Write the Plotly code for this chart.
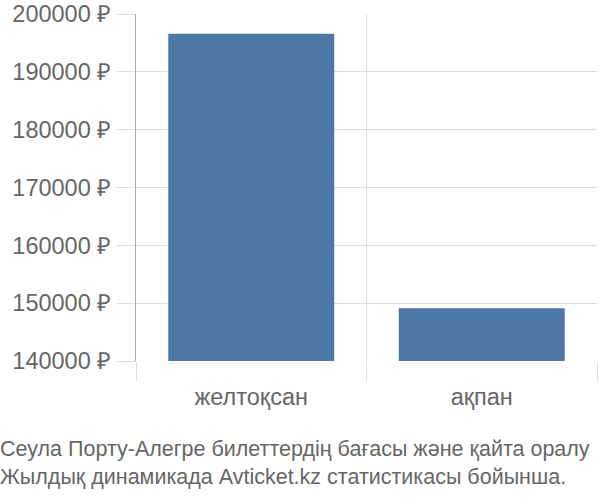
import plotly.graph_objects as go

categories = ["желтоқсан", "ақпан"]
prices = [196600, 149100]
y_ticks = [140000, 150000, 160000, 170000, 180000, 190000, 200000]
y_tick_labels = [f"{v} ₽" for v in y_ticks]
title_lines = ["Сеула Порту-Алегре билеттердің бағасы және қайта оралу",
               "Жылдық динамикада Avticket.kz статистикасы бойынша."]

fig = go.Figure()
fig.add_trace(go.Bar(
    x=categories, y=prices,
    marker=dict(color="#4d78a6", line=dict(width=0)),
    width=0.72,
    hoverinfo="skip",
))

fig.update_layout(
    width=600, height=500,
    margin=dict(l=136, r=3, t=14, b=139),
    paper_bgcolor="white", plot_bgcolor="white",
    font=dict(family="Liberation Sans, Arial, sans-serif", color="#666666", size=23),
    showlegend=False,
    xaxis=dict(
        type="category",
        automargin=False,
        tickson="boundaries",
        ticks="outside", ticklen=19, tickcolor="#dddddd", tickwidth=1,
        showgrid=True, gridcolor="#dddddd", gridwidth=1,
        showline=False,
        tickfont=dict(size=23.5, color="#666666"),
        ticklabelstandoff=19,
        range=[-0.5, 1.5],
    ),
    yaxis=dict(
        automargin=False,
        range=[140000, 200000],
        tickvals=y_ticks, ticktext=y_tick_labels,
        ticks="outside", ticklen=18, tickcolor="#dddddd",
        showgrid=True, gridcolor="#dddddd", gridwidth=1,
        showline=True, linecolor="#aaaaaa", linewidth=1,
        zeroline=False,
        tickfont=dict(size=23.5, color="#666666"),
        ticklabelstandoff=1,
    ),
    annotations=[dict(
        x=0, y=0, xref="paper", yref="paper",
        xshift=-137, yshift=-139+10,
        xanchor="left", yanchor="bottom", align="left",
        borderpad=0,
        text="<br>".join(title_lines), showarrow=False,
        font=dict(size=21.5, color="#666666"),
    )],
)

fig.write_html("out.html", config={"displayModeBar": False},
               post_script="document.body.style.margin='0';")
